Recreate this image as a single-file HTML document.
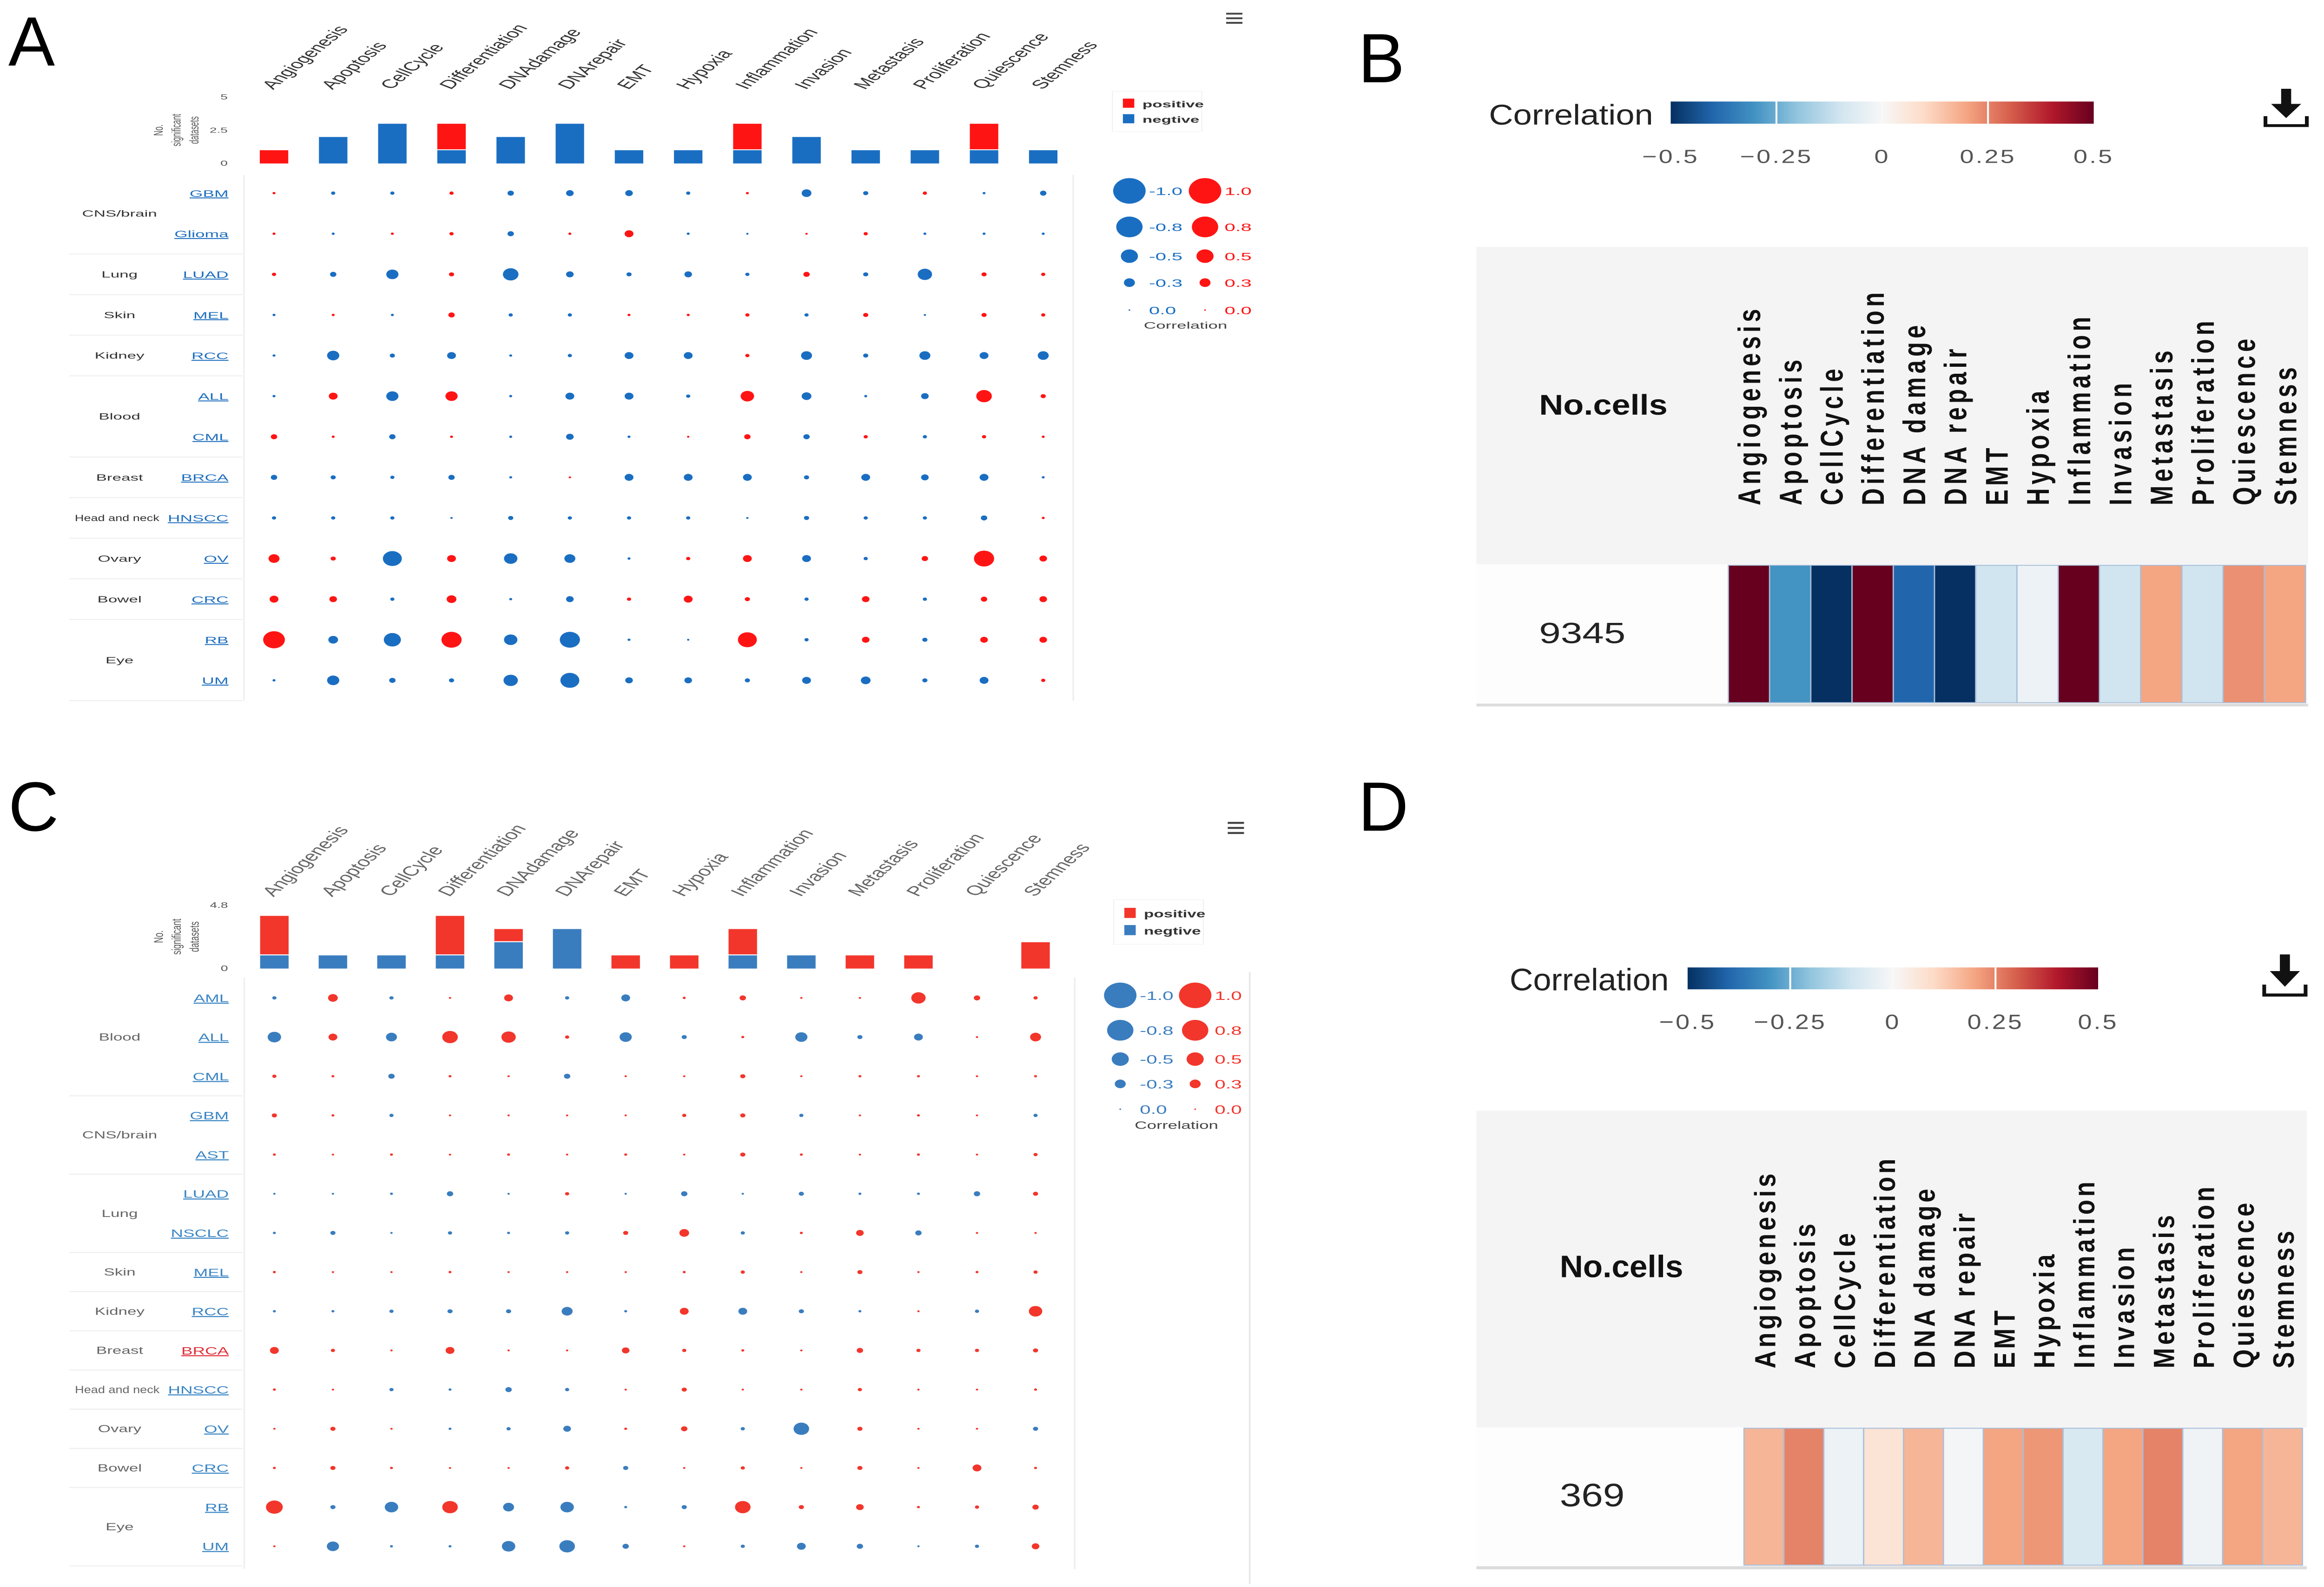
<!DOCTYPE html>
<html><head><meta charset="utf-8">
<style>
html,body{margin:0;padding:0;background:#fff;}
#page{position:relative;width:5017px;height:3414px;background:#fff;overflow:hidden;font-family:"Liberation Sans",Arial,sans-serif;}
.letter{position:absolute;font-family:"Liberation Sans",Arial,sans-serif;font-size:150px;line-height:1;color:#000;}
svg{position:absolute;overflow:visible;}
</style></head>
<body>
<div id="page">
<div class="letter" style="left:18px;top:14px">A</div>
<div class="letter" style="left:2922px;top:50px">B</div>
<div class="letter" style="left:18px;top:1660px">C</div>
<div class="letter" style="left:2922px;top:1660px">D</div>
<svg id="svgA" style="left:0;top:0" width="2750" height="1550" viewBox="0 0 1572 1578" preserveAspectRatio="none"></svg>
<svg id="svgC" style="left:0;top:1694px" width="2750" height="1714" viewBox="0 0 1570 1575" preserveAspectRatio="none"></svg>
<svg id="svgB" style="left:2900px;top:0" width="2117" height="1600" viewBox="0 0 1570 1575" preserveAspectRatio="none"></svg>
<svg id="svgD" style="left:2900px;top:1650px" width="2117" height="1764" viewBox="0 0 1570 1575" preserveAspectRatio="none"></svg>
</div>
<script>
// ---------- data ----------
const categories = ["Angiogenesis","Apoptosis","CellCycle","Differentiation","DNAdamage","DNArepair","EMT","Hypoxia","Inflammation","Invasion","Metastasis","Proliferation","Quiescence","Stemness"];
const heatCategories = ["Angiogenesis","Apoptosis","CellCycle","Differentiation","DNA damage","DNA repair","EMT","Hypoxia","Inflammation","Invasion","Metastasis","Proliferation","Quiescence","Stemness"];

const rowsA = ["GBM","Glioma","LUAD","MEL","RCC","ALL","CML","BRCA","HNSCC","OV","CRC","RB","UM"];
const groupsA = [["CNS/brain",0,1],["Lung",2,2],["Skin",3,3],["Kidney",4,4],["Blood",5,6],["Breast",7,7],["Head and neck",8,8],["Ovary",9,9],["Bowel",10,10],["Eye",11,12]];
const barsPosA = [1,0,0,2,0,0,0,0,2,0,0,0,2,0];
const barsNegA = [0,2,3,1,2,3,1,1,1,2,1,1,1,1];
const valuesA = [
[0.04,-0.08,-0.08,0.08,-0.15,-0.19,-0.19,-0.08,0.04,-0.26,-0.11,0.08,-0.04,-0.15],
[0.04,-0.04,0.04,0.08,-0.15,0.04,0.23,-0.04,-0.02,0.02,0.08,-0.04,-0.04,-0.04],
[0.08,-0.15,-0.34,0.11,-0.45,-0.19,-0.11,-0.19,-0.08,0.15,-0.11,-0.41,0.11,0.08],
[-0.04,0.04,-0.04,0.15,-0.08,-0.08,0.04,0.04,0.08,-0.08,0.11,-0.02,0.11,0.08],
[-0.04,-0.34,-0.11,-0.23,-0.04,-0.08,-0.23,-0.23,0.08,-0.3,-0.11,-0.3,-0.23,-0.3],
[-0.04,0.23,-0.34,0.34,-0.04,-0.23,-0.23,-0.08,0.38,-0.26,-0.04,-0.19,0.45,0.11],
[0.15,0.04,-0.15,0.04,-0.04,-0.19,-0.04,0.02,0.15,-0.15,0.08,-0.08,0.08,0.04],
[-0.15,-0.11,-0.08,-0.15,-0.04,0.02,-0.23,-0.23,-0.23,-0.11,-0.23,-0.19,-0.23,-0.04],
[-0.08,-0.08,-0.08,-0.02,-0.11,-0.08,-0.08,-0.08,-0.02,-0.11,-0.08,-0.08,-0.15,0.04],
[0.3,0.11,-0.56,0.23,-0.38,-0.3,-0.04,0.08,0.23,-0.23,-0.08,0.15,0.6,0.19],
[0.23,0.19,-0.08,0.26,-0.04,-0.19,0.08,0.23,0.11,-0.08,0.19,-0.08,0.15,0.19],
[0.65,-0.26,-0.5,0.6,-0.38,-0.6,-0.04,-0.02,0.56,-0.08,0.19,-0.11,0.19,0.19],
[-0.04,-0.34,-0.15,-0.11,-0.41,-0.56,-0.19,-0.19,-0.11,-0.23,-0.26,-0.11,-0.23,0.08]
];

const rowsC = ["AML","ALL","CML","GBM","AST","LUAD","NSCLC","MEL","RCC","BRCA","HNSCC","OV","CRC","RB","UM"];
const groupsC = [["Blood",0,2],["CNS/brain",3,4],["Lung",5,6],["Skin",7,7],["Kidney",8,8],["Breast",9,9],["Head and neck",10,10],["Ovary",11,11],["Bowel",12,12],["Eye",13,14]];
const barsPosC = [3,0,0,3,1,0,1,1,2,0,1,1,0,2];
const barsNegC = [1,1,1,1,2,3,0,0,1,1,0,0,0,0];
const valuesC = [
[-0.08,0.26,-0.08,0.02,0.23,-0.08,-0.23,0.04,0.15,0.02,0.02,0.41,0.15,0.08],
[-0.38,0.23,-0.3,0.45,0.41,0.08,-0.34,-0.11,0.04,-0.34,-0.11,-0.23,0.02,0.3],
[0.08,0.04,-0.15,0.04,0.02,-0.15,0.02,0.02,0.11,0.02,0.04,0.04,0.02,0.04],
[0.11,0.04,-0.08,0.02,0.02,0.02,0.02,0.08,0.11,-0.08,0.02,0.04,0.02,-0.08],
[0.04,0.02,0.04,0.02,0.04,0.02,0.04,0.02,0.11,0.04,0.02,0.04,0.02,0.08],
[-0.02,-0.02,-0.04,-0.15,-0.02,0.08,-0.02,-0.15,-0.02,-0.11,-0.04,-0.04,-0.15,0.11],
[-0.04,-0.11,-0.02,-0.08,-0.04,-0.08,0.11,0.26,-0.08,0.04,0.19,-0.15,0.02,0.02],
[0.04,0.02,0.02,0.04,0.02,0.02,0.02,0.04,0.08,0.02,0.11,0.02,0.04,0.08],
[-0.04,-0.04,-0.08,-0.11,-0.11,-0.3,-0.04,0.23,-0.23,-0.11,-0.04,0.02,-0.08,0.38],
[0.23,0.08,0.02,0.23,0.02,0.02,0.19,0.08,0.04,0.02,0.15,0.08,0.08,0.11],
[0.04,0.02,-0.08,-0.04,-0.15,-0.08,0.02,0.11,0.02,0.02,0.08,0.02,0.02,0.04],
[0.02,0.11,0.02,-0.04,-0.08,-0.19,0.04,0.15,-0.08,-0.45,0.11,0.02,0.02,-0.11],
[0.04,0.11,0.04,0.02,0.02,0.08,-0.11,0.02,0.08,0.02,0.11,0.02,0.23,0.04],
[0.49,-0.11,-0.38,0.45,-0.3,-0.38,-0.04,-0.11,0.45,0.11,0.19,0.04,0.08,0.15],
[0.02,-0.34,-0.04,-0.04,-0.38,-0.45,-0.15,0.02,-0.08,-0.23,-0.15,-0.02,-0.08,0.19]
];

const legendValues = [1.0,0.8,0.5,0.3,0.0];
const legendLabelsNeg = ["-1.0","-0.8","-0.5","-0.3","0.0"];
const legendLabelsPos = ["1.0","0.8","0.5","0.3","0.0"];

const heatValuesB = [0.5,-0.3,-0.5,0.5,-0.4,-0.5,-0.1,-0.03,0.5,-0.1,0.2,-0.1,0.23,0.2];
const heatValuesD = [0.17,0.25,-0.03,0.07,0.17,-0.01,0.2,0.22,-0.08,0.2,0.25,-0.02,0.2,0.17];
const cellCountB = "9345";
const cellCountD = "369";
const colorbarTicks = [-0.5,-0.25,0,0.25,0.5];
const colorbarTickLabels = ["\u22120.5","\u22120.25","0","0.25","0.5"];

// ---------- helpers ----------
const NS = "http://www.w3.org/2000/svg";
function mk(parent, tag, attrs, text){
  const e = document.createElementNS(NS, tag);
  for (const k in attrs) e.setAttribute(k, attrs[k]);
  if (text !== undefined) e.textContent = text;
  parent.appendChild(e);
  return e;
}
function radPx(v){ return 1.5 + 26*Math.abs(v); }

const scaleStops = [[-0.5,[5,48,97]],[-0.4,[33,102,172]],[-0.3,[67,147,195]],[-0.2,[146,197,222]],[-0.1,[209,229,240]],[0,[247,247,247]],[0.1,[253,219,199]],[0.2,[244,165,130]],[0.3,[214,96,77]],[0.4,[178,24,43]],[0.5,[103,0,31]]];
function heatColor(v){
  v = Math.max(-0.5, Math.min(0.5, v));
  for (let i=0;i<scaleStops.length-1;i++){
    const a=scaleStops[i], b=scaleStops[i+1];
    if (v>=a[0] && v<=b[0]){
      const t=(v-a[0])/(b[0]-a[0]);
      const c=a[1].map((x,j)=>Math.round(x+(b[1][j]-x)*t));
      return "rgb("+c.join(",")+")";
    }
  }
  return "#f7f7f7";
}

// ---------- bubble panel ----------
function drawBubble(svg, cfg){
  const colX = i => cfg.x0 + cfg.dx*i;
  const rowY = r => cfg.y0 + cfg.dy*r;
  const barY = v => cfg.barBase - v*cfg.barUnit;
  const ell = (parent, cx, cy, v, fill) => {
    const ry = radPx(v);
    return mk(parent,"ellipse",{cx:cx,cy:cy,rx:1.27*ry/cfg.sx,ry:ry/cfg.sy,fill:fill});
  };
  const g = mk(svg,"g",{});
  const hm = mk(g,"g",{stroke:"#444","stroke-width":4});
  
  
  for (let k=0;k<3;k++) mk(hm,"line",{x1:1508,x2:1528,y1:cfg.menuY+k*10,y2:cfg.menuY+k*10});
  categories.forEach((c,i)=>{
    const lx = colX(i)-1;
    const t = mk(g,"text",{x:lx,y:cfg.labelY,"font-size":27,fill:cfg.textCol,transform:"rotate(-55 "+lx+" "+cfg.labelY+")"},c);
    
    
  });
  cfg.barTicks.forEach((tk,k)=>{
    const t = mk(g,"text",{x:280,y:barY(cfg.barTickVals[k])+5,"font-size":16,fill:"#555","text-anchor":"end"},tk);
    
    
  });
  const yt = mk(g,"text",{x:0,y:0,"font-size":16,fill:"#555","text-anchor":"middle",transform:"translate(200 "+cfg.axisTitleY+") rotate(-90)"});
  
  
  ["No.","significant","datasets"].forEach((s,k)=>mk(yt,"tspan",{x:0,dy:k?22:0},s));
  categories.forEach((c,i)=>{
    const neg = cfg.barsNeg[i], pos = cfg.barsPos[i];
    if (neg>0){
      const b = mk(g,"rect",{x:colX(i)-17.5,y:barY(neg),width:35,height:barY(0)-barY(neg),fill:cfg.blue});
      
      
    }
    if (pos>0){
      const top = barY(neg+pos), bot = barY(neg) - (neg>0?2:0);
      const b = mk(g,"rect",{x:colX(i)-17.5,y:top,width:35,height:bot-top,fill:cfg.red});
      
      
    }
  });
  const bl = mk(g,"g",{});
  
  
  mk(bl,"rect",{x:1368,y:cfg.legY,width:110,height:88,fill:"#fff",stroke:"#eee"});
  mk(bl,"rect",{x:1381,y:cfg.legY+16,width:14,height:20,fill:cfg.red});
  mk(bl,"rect",{x:1381,y:cfg.legY+50,width:14,height:20,fill:cfg.blue});
  const lp = mk(bl,"text",{x:1405,y:cfg.legY+35,"font-size":20,"font-weight":"bold",fill:"#333"},"positive");
  
  
  const ln = mk(bl,"text",{x:1405,y:cfg.legY+69,"font-size":20,"font-weight":"bold",fill:"#333"},"negtive");
  
  
  mk(g,"line",{x1:300,x2:300,y1:cfg.y0-40,y2:cfg.frameBottom,stroke:"#f0f0f0","stroke-width":2});
  mk(g,"line",{x1:1320,x2:1320,y1:cfg.y0-40,y2:cfg.frameBottom,stroke:"#eeeeee","stroke-width":2});
  cfg.rows.forEach((r,ri)=>{
    const col = (cfg.redRows && cfg.redRows.indexOf(r)>=0) ? "#e0303a" : cfg.linkCol;
    const t = mk(g,"text",{x:281,y:rowY(ri)+8,"font-size":21,fill:col,"text-anchor":"end","text-decoration":"underline"},r);
    
    
  });
  cfg.groups.forEach(gr=>{
    const y = (rowY(gr[1])+rowY(gr[2]))/2;
    const attrs = {x:147,y:y+7,"font-size":20,fill:cfg.textCol,"text-anchor":"middle"};
    if (gr[0].length>10){ attrs.textLength=104; attrs.lengthAdjust="spacingAndGlyphs"; attrs.x=144; }
    const t = mk(g,"text",attrs,gr[0]);
    
    
    const ly = rowY(gr[2]) + cfg.dy/2;
    mk(g,"line",{x1:85,x2:298,y1:ly,y2:ly,stroke:"#eeeeee","stroke-width":2});
  });
  cfg.values.forEach((row,ri)=>{
    row.forEach((v,ci)=>{
      const c = ell(g,colX(ci),rowY(ri),v,v>=0?cfg.red:cfg.blue);
      
      
    });
  });
  legendValues.forEach((v,k)=>{
    const y = cfg.sizeLegY[k];
    const cb = ell(g,cfg.sizeLegX[0],y,v,cfg.blue);
    
    
    mk(g,"text",{x:cfg.sizeLegX[0]+24,y:y+9,"font-size":24,fill:cfg.blue},legendLabelsNeg[k]);
    const cr = ell(g,cfg.sizeLegX[1],y,v,cfg.red);
    
    
    mk(g,"text",{x:cfg.sizeLegX[1]+24,y:y+9,"font-size":24,fill:cfg.red},legendLabelsPos[k]);
  });
  const ct = mk(g,"text",{x:cfg.sizeLegTitleX,y:cfg.sizeLegTitleY,"font-size":21,fill:"#444","text-anchor":"middle"},"Correlation");
  
  
}

drawBubble(document.getElementById("svgA"),{
  sx:2750/1572, sy:1550/1578,
  x0:337,dx:72.77,y0:423,dy:88.92,barBase:358,barUnit:29,
  barTicks:["5","2.5","0"],barTickVals:[5,2.5,0],axisTitleY:285,
  labelY:197,menuY:30,legY:200,frameBottom:1535,
  rows:rowsA,groups:groupsA,values:valuesA,barsPos:barsPosA,barsNeg:barsNegA,
  red:"#ff1414",blue:"#1a6ec2",linkCol:"#1f6fbf",textCol:"#333",
  sizeLegX:[1389,1482],sizeLegY:[418,497,561,619,679],sizeLegTitleX:1458,sizeLegTitleY:720
});
drawBubble(document.getElementById("svgC"),{
  sx:2750/1570, sy:1714/1575,
  x0:337,dx:71.92,y0:416,dy:77.43,barBase:358,barUnit:26.04,
  barTicks:["4.8","0"],barTickVals:[4.8,0],axisTitleY:295,
  labelY:217,menuY:70,legY:222,frameBottom:1545,
  rows:rowsC,groups:groupsC,values:valuesC,barsPos:barsPosC,barsNeg:barsNegC,redRows:["BRCA"],
  red:"#f2362c",blue:"#3a7dbf",linkCol:"#3a85c4",textCol:"#666",
  sizeLegX:[1376,1468],sizeLegY:[411,480,537,586,636],sizeLegTitleX:1445,sizeLegTitleY:675
});
(function(){
  const s=document.getElementById("svgC");
  mk(s,"line",{x1:1535,x2:1535,y1:365,y2:1575,stroke:"#e6e6e6","stroke-width":2});
})();

// ---------- heatmap panel ----------
function drawHeat(svg, cfg){
  const g = mk(svg,"g",{});
  const gid = "grad"+cfg.id;
  const defs = mk(g,"defs",{});
  const lg = mk(defs,"linearGradient",{id:gid,x1:0,x2:1,y1:0,y2:0});
  scaleStops.forEach(st=>{
    mk(lg,"stop",{offset:((st[0]+0.5)*100)+"%","stop-color":"rgb("+st[1].join(",")+")"});
  });
  const cbx = v => cfg.cb.x0 + (v+0.5)*(cfg.cb.x1-cfg.cb.x0);
  const bar = mk(g,"rect",{x:cfg.cb.x0,y:cfg.cb.y0,width:cfg.cb.x1-cfg.cb.x0,height:cfg.cb.y1-cfg.cb.y0,fill:"url(#"+gid+")"});
  
  
  [-0.25,0,0.25].forEach(v=>mk(g,"line",{x1:cbx(v),x2:cbx(v),y1:cfg.cb.y0,y2:cfg.cb.y1,stroke:"#fff","stroke-width":v===0?1:3,opacity:v===0?0.5:1}));
  colorbarTicks.forEach((v,k)=>{
    const t = mk(g,"text",{x:cbx(v),y:cfg.cb.tickY,"font-size":40,fill:"#555","text-anchor":"middle","letter-spacing":3},colorbarTickLabels[k]);
    
    
  });
  const ct = mk(g,"text",{x:cfg.cb.titleX,y:cfg.cb.y1+2,"font-size":60,fill:"#222",textLength:cfg.cb.titleW,lengthAdjust:"spacingAndGlyphs"},"Correlation");
  
  
  const dl = mk(g,"g",{fill:"#111"});
  
  
  const ix=cfg.iconX, iy=cfg.iconY;
  mk(dl,"rect",{x:ix-8,y:iy,width:16,height:38});
  mk(dl,"polygon",{points:(ix-24)+","+(iy+32)+" "+(ix+24)+","+(iy+32)+" "+ix+","+(iy+62)});
  mk(dl,"path",{d:"M"+(ix-33)+" "+(iy+58)+" v20 h66 v-20",fill:"none",stroke:"#111","stroke-width":6});
  mk(g,"rect",{x:205,y:cfg.headTop,width:cfg.tableRight-205,height:cfg.headBot-cfg.headTop,fill:"#f4f4f4"});
  mk(g,"rect",{x:205,y:cfg.headBot,width:cfg.tableRight-205,height:cfg.rowBot-cfg.headBot,fill:"#fdfdfd"});
  mk(g,"rect",{x:205,y:cfg.rowBot,width:cfg.tableRight-205,height:6,fill:"#dcdcdc"});
  const nh = mk(g,"text",{x:cfg.noX,y:cfg.noY,"font-size":60,"font-weight":"bold",fill:"#111",textLength:cfg.noW,lengthAdjust:"spacingAndGlyphs"},"No.cells");
  
  
  const nv = mk(g,"text",{x:cfg.noX,y:cfg.countY,"font-size":62,fill:"#222"},cfg.count);
  
  
  const cw = (cfg.cellRight-cfg.cellLeft)/heatCategories.length;
  heatCategories.forEach((c,i)=>{
    const cx = cfg.cellLeft + cw*(i+0.5);
    const t = mk(g,"text",{x:0,y:0,"font-size":cfg.hfs,"font-weight":"bold",fill:"#111","letter-spacing":cfg.hls,transform:"translate("+(cx+18)+" "+cfg.labBot+") rotate(-90)"},c);
    
    
    const r = mk(g,"rect",{x:cfg.cellLeft+cw*i,y:cfg.headBot+2,width:cw,height:cfg.rowBot-cfg.headBot-4,fill:heatColor(cfg.values[i]),stroke:"#a9bfd8","stroke-width":2});
    
    
  });
}
drawHeat(document.getElementById("svgB"),{
  id:"B",values:heatValuesB,count:cellCountB,
  cb:{x0:515,x1:1190,y0:215,y1:262,tickY:345,titleX:225,titleW:262},
  iconX:1497,iconY:188,
  headTop:523,headBot:1195,rowBot:1490,tableRight:1532,
  cellLeft:607,cellRight:1528,labBot:1070,hfs:50,hls:8,
  noX:305,noY:878,noW:205,countY:1362
});
drawHeat(document.getElementById("svgD"),{
  id:"D",values:heatValuesD,count:cellCountD,
  cb:{x0:542,x1:1197,y0:385,y1:427,tickY:503,titleX:258,titleW:254},
  iconX:1495,iconY:360,
  headTop:660,headBot:1268,rowBot:1535,tableRight:1530,
  cellLeft:632,cellRight:1523,labBot:1155,hfs:47,hls:6,
  noX:338,noY:980,noW:197,countY:1420
});
</script>
</body></html>
